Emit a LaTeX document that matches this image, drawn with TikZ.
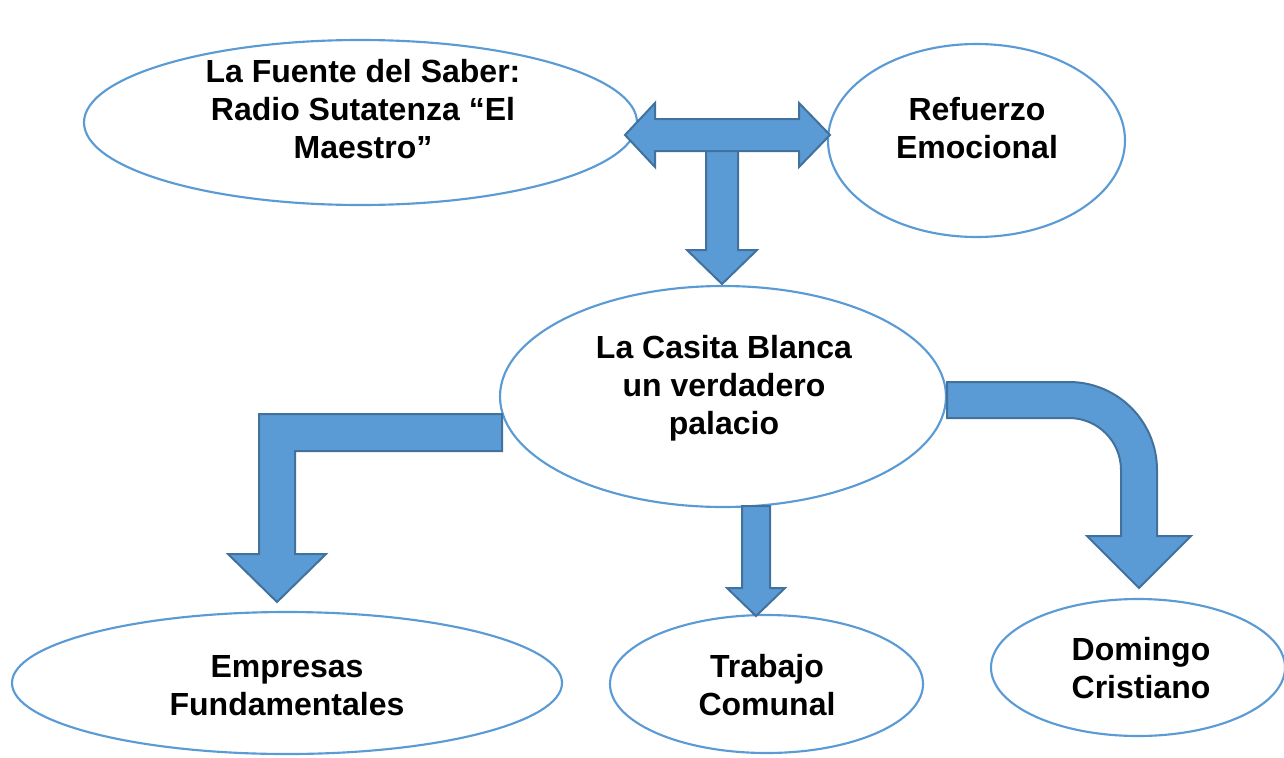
\documentclass[tikz,border=0pt]{standalone}
\usepackage{fontspec}
\setmainfont{Liberation Sans}
\usetikzlibrary{shapes.geometric}
\definecolor{arrfill}{HTML}{5B9BD5}
\definecolor{arrline}{HTML}{41719C}
\definecolor{ellline}{HTML}{5B9BD5}
\tikzset{
  ell/.style={draw=ellline, line width=1.6pt, fill=white, ellipse, inner sep=0pt, outer sep=0pt},
  lbl/.style={anchor=base, inner sep=0pt, font=\fontsize{24}{28.5}\selectfont\bfseries},
  blockarrow/.style={fill=arrfill, draw=arrline, line width=1.5pt, line join=miter}
}
\newcommand{\lines}[1]{\begin{tabular}[t]{@{}c@{}}#1\end{tabular}}
\begin{document}
\begin{tikzpicture}[x=0.75pt, y=-0.75pt]
\useasboundingbox (0,0) rectangle (1284,757);
% ellipses
\node[ell, minimum width=414.75pt, minimum height=123.75pt] (fuente) at (360.5,122.5) {};
\node[ell, minimum width=222.75pt, minimum height=144.75pt] (refuerzo) at (976.5,140.5) {};
\node[ell, minimum width=334.5pt, minimum height=165.75pt] (casita) at (723,396.5) {};
\node[ell, minimum width=412.5pt, minimum height=106.5pt] (empresas) at (287,683) {};
\node[ell, minimum width=234.75pt, minimum height=103.5pt] (trabajo) at (766.5,684) {};
\node[ell, minimum width=220.5pt, minimum height=102.75pt] (domingo) at (1138,667.5) {};
% texts
\node[lbl] (tfuente) at (363,82.5) {\lines{La Fuente del Saber:\\ Radio Sutatenza “El\\ Maestro”}};
\node[lbl] (trefuerzo) at (977,120) {\lines{Refuerzo\\ Emocional}};
\node[lbl] (tcasita) at (724,358) {\lines{La Casita Blanca\\ un verdadero\\ palacio}};
\node[lbl] (tempresas) at (287,677) {\lines{Empresas\\ Fundamentales}};
\node[lbl] (ttrabajo) at (767,677) {\lines{Trabajo\\ Comunal}};
\node[lbl] (tdomingo) at (1141,660) {\lines{Domingo\\ Cristiano}};
% double arrow between Fuente and Refuerzo
\draw[blockarrow] (625,135) -- (655,103) -- (655,119) -- (799,119) -- (799,103) -- (830,135)
  -- (799,167) -- (799,151) -- (655,151) -- (655,167) -- cycle;
% down arrow to Casita
\draw[blockarrow] (706,151) -- (738,151) -- (738,250) -- (757,250) -- (722,284) -- (687,250) -- (706,250) -- cycle;
% L-shaped arrow to Empresas
\draw[blockarrow] (502,414) -- (259,414) -- (259,554) -- (228,554) -- (277,602) -- (326,554)
  -- (295,554) -- (295,451) -- (502,451) -- cycle;
% small down arrow to Trabajo
\draw[blockarrow] (742,506) -- (770,506) -- (770,588) -- (785,588) -- (756,616) -- (727,588) -- (742,588) -- cycle;
% bent arrow to Domingo
\draw[blockarrow] (947,382) -- (1069,382) .. controls (1117.6,382) and (1157,421.4) .. (1157,470)
  -- (1157,536) -- (1191,536) -- (1139,588) -- (1087,536) -- (1121,536) -- (1121,470)
  .. controls (1121,441.3) and (1097.7,418) .. (1069,418) -- (947,418) -- cycle;
\end{tikzpicture}
\end{document}
